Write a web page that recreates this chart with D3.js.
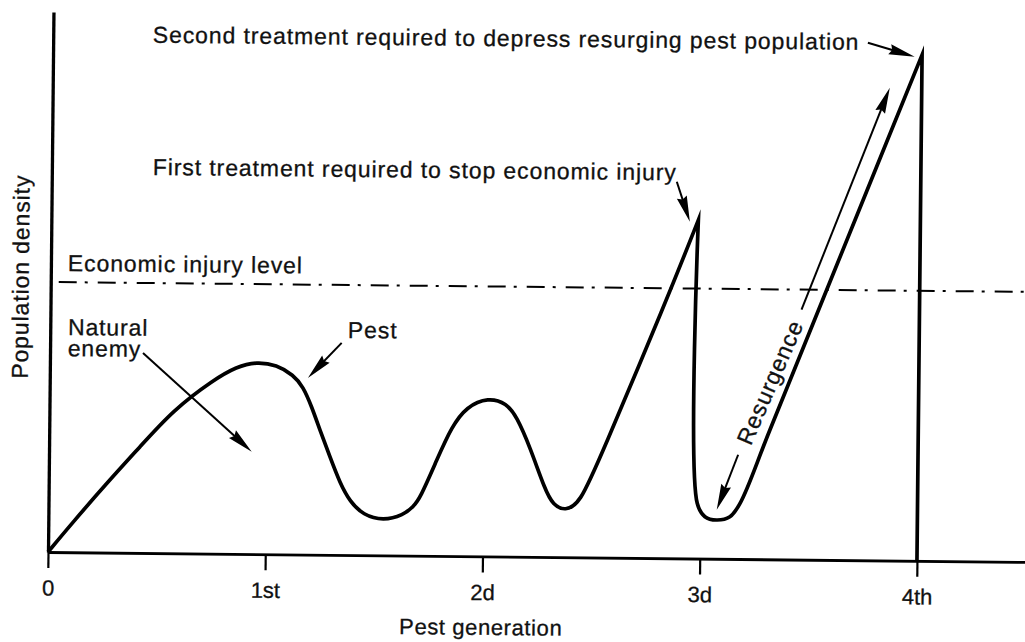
<!DOCTYPE html>
<html><head><meta charset="utf-8">
<script src="https://cdn.jsdelivr.net/npm/d3@7"></script>
<style>
html,body{margin:0;padding:0;background:#fff;}
svg{display:block;}
text{font-family:"Liberation Sans",Arial,Helvetica,sans-serif;fill:#111;stroke:#111;stroke-width:0.3px;}
</style></head><body>
<svg id="chart" width="1025" height="642"></svg>
<script>
// ---------------- data ----------------
const generationTicks = [0, 1, 2, 3, 4];
const generationLabels = ["0", "1st", "2d", "3d", "4th"];
const economicInjuryLevel = 50;

// pest population up to the first treatment (generation, density)
const pestGen1 = [0, 0.115, 0.267, 0.419, 0.570, 0.753, 0.860, 0.952, 1.044, 1.121, 1.167, 1.207, 1.246, 1.293, 1.341, 1.388, 1.449, 1.542, 1.634, 1.679, 1.710, 1.785, 1.852, 1.920, 2.019, 2.104, 2.151, 2.213, 2.285, 2.323, 2.378, 2.446, 2.536, 2.836, 2.978];
const pestDen1 = [0, 5.66, 12.83, 19.67, 26.53, 32.16, 34.67, 35.63, 35.06, 33.24, 31.09, 27.40, 23.10, 18.18, 13.27, 9.88, 7.44, 6.42, 7.52, 9.07, 10.64, 17.76, 23.96, 27.69, 29.47, 28.39, 25.93, 20.40, 12.41, 9.65, 8.56, 10.01, 18.38, 47.82, 62.70];
// first treatment and resurgence
const pestGen2 = [2.978, 2.986, 3.022, 3.076, 3.137, 3.183, 3.317, 3.751, 4.0];
const pestDen2 = [62.70, 10.23, 7.77, 7.18, 7.81, 10.31, 23.94, 68.3, 93.7];
// second treatment
const pestGen3 = [4.0, 4.0];
const pestDen3 = [93.7, 0];

// ---------------- layout ----------------
const svg = d3.select("#chart");
const x = d3.scaleLinear().domain([0, 4.5]).range([48, 48 + 4.5 * 217.25]);
const y = d3.scaleLinear().domain([0, 100]).range([552, 12]);

const g = svg.append("g").attr("transform", "rotate(0.58,48,552)");

// x axis
const xAxis = d3.axisBottom(x)
  .tickValues(generationTicks)
  .tickFormat((d, i) => generationLabels[i])
  .tickSize(16).tickSizeOuter(0).tickPadding(12);
const xa = g.append("g").attr("transform", `translate(0,${y(0)})`).call(xAxis);
xa.select(".domain").attr("stroke", "#000").attr("stroke-width", 2.8);
xa.selectAll(".tick line").attr("stroke", "#000").attr("stroke-width", 2.2);
xa.selectAll(".tick text").attr("fill", "#111").style("font-size", "22px")
  .style("font-family", '"Liberation Sans",Arial,Helvetica,sans-serif');

// y axis
const yAxis = d3.axisLeft(y).tickValues([]).tickSizeOuter(0);
const ya = g.append("g").attr("transform", `translate(${x(0)},0)`).call(yAxis);
ya.select(".domain").attr("stroke", "#000").attr("stroke-width", 3.3);

// economic injury level
g.append("line")
  .attr("x1", 56).attr("x2", x(4.5) + 10)
  .attr("y1", y(economicInjuryLevel)).attr("y2", y(economicInjuryLevel))
  .attr("stroke", "#000").attr("stroke-width", 2)
  .attr("stroke-dasharray", "18,8,3,10");

// pest curve
const smooth = d3.line().x(d => x(d[0])).y(d => y(d[1])).curve(d3.curveBasis);
const curved = d3.line().x(d => x(d[0])).y(d => y(d[1])).curve(d3.curveCatmullRom.alpha(0.5));
const straight = d3.line().x(d => x(d[0])).y(d => y(d[1]));
const seg1 = smooth(pestGen1.map((v, i) => [v, pestDen1[i]]));
const seg2 = curved(pestGen2.map((v, i) => [v, pestDen2[i]])).replace(/^M[^A-Za-z]*/, "");
const seg3 = straight(pestGen3.map((v, i) => [v, pestDen3[i]])).replace(/^M[^A-Za-z]*/, "");
g.append("path")
  .attr("d", seg1 + seg2 + seg3)
  .attr("fill", "none").attr("stroke", "#000").attr("stroke-width", 3.7)
  .attr("stroke-linejoin", "miter").attr("stroke-miterlimit", 12);

// arrows (tail -> tip, in data units)
const arrows = [
  { from: [3.750, 95.85], to: [3.966, 93.35] },
  { from: [2.877, 69.74], to: [2.939, 62.35] },
  { from: [1.342, 39.28], to: [1.188, 32.72] },
  { from: [0.428, 37.04], to: [0.933, 18.96] },
  { from: [3.457, 46.28], to: [3.853, 87.56] },
  { from: [3.172, 19.30], to: [3.076, 9.07] }
];
arrows.forEach(a => {
  const x0 = x(a.from[0]), y0 = y(a.from[1]), x1 = x(a.to[0]), y1 = y(a.to[1]);
  const L = Math.hypot(x1 - x0, y1 - y0), ux = (x1 - x0) / L, uy = (y1 - y0) / L;
  const nx = -uy, ny = ux, hl = 26, hw = 5.2;
  g.append("line").attr("x1", x0).attr("y1", y0)
    .attr("x2", x1 - ux * 12).attr("y2", y1 - uy * 12)
    .attr("stroke", "#000").attr("stroke-width", 2);
  g.append("path")
    .attr("d", `M${x1},${y1}L${x1 - ux * hl + nx * hw},${y1 - uy * hl + ny * hw}L${x1 - ux * hl * 0.9},${y1 - uy * hl * 0.9}L${x1 - ux * hl - nx * hw},${y1 - uy * hl - ny * hw}Z`)
    .attr("fill", "#000");
});

// texts
const big = (sel) => sel.style("font-size", "23px").style("letter-spacing", "0.9px");
big(g.append("text").attr("x", 147.6).attr("y", 41.6).text("Second treatment required to depress resurging pest population"));
big(g.append("text").attr("x", 149).attr("y", 173.9).text("First treatment required to stop economic injury"));
big(g.append("text").attr("x", 65).attr("y", 270.8).text("Economic injury level"));
big(g.append("text").attr("x", 65.7).attr("y", 334.8).text("Natural"));
big(g.append("text").attr("x", 65.7).attr("y", 356).text("enemy"));
big(g.append("text").attr("x", 345.7).attr("y", 334.9).text("Pest"));
big(g.append("text").attr("transform", "translate(768.2,375) rotate(-67)")
  .attr("text-anchor", "middle").attr("dy", "0.35em").text("Resurgence"));
g.append("text").attr("x", x(2) - 1).attr("y", 630.5).attr("text-anchor", "middle")
  .style("font-size", "22px").style("letter-spacing", "0.6px").text("Pest generation");
big(g.append("text").attr("transform", "translate(26,277) rotate(-90)")
  .attr("text-anchor", "middle").text("Population density"));
</script>
</body></html>
